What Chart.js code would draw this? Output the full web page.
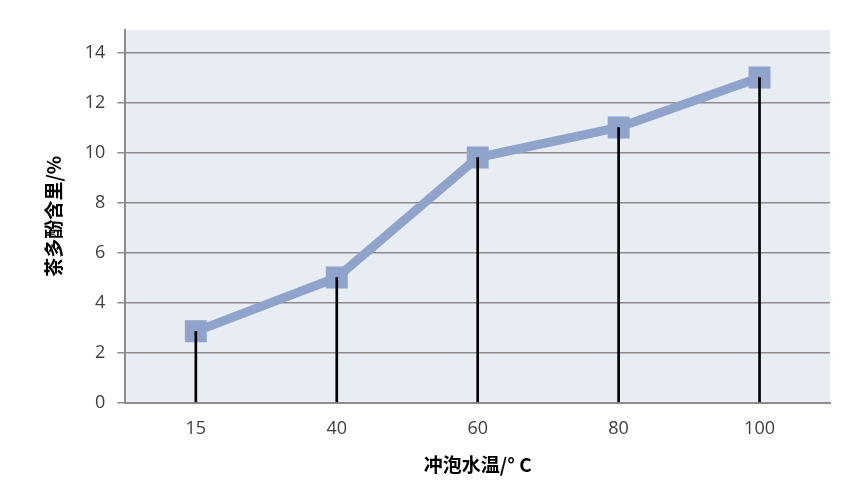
<!DOCTYPE html>
<html>
<head>
<meta charset="utf-8">
<script src="https://cdn.jsdelivr.net/npm/chart.js@4"></script>
<style>
  html, body { margin: 0; padding: 0; background: #fff; }
  #wrap { width: 865px; height: 480px; }
</style>
</head>
<body>
<div id="wrap"><canvas id="chart"></canvas></div>
<script>
// water temperature categories and tea polyphenol content
const temps = ['15', '40', '60', '80', '100'];
const polyphenol = [2.85, 5.0, 9.8, 11.0, 13.0];
const yTicks = [0, 2, 4, 6, 8, 10, 12, 14];

const xTitle = '冲泡水温/° C';
const yTitle = '茶多酚含里/%';

// fill the plot area light blue-grey like the original
const plotBg = {
  id: 'plotBg',
  beforeDraw(chart) {
    const a = chart.chartArea;
    const c = chart.ctx;
    c.save();
    c.fillStyle = '#e8ecf3';
    c.fillRect(a.left, a.top, a.right - a.left, a.bottom - a.top);
    c.restore();
  }
};

const ctx = document.getElementById('chart');
const myChart = new Chart(ctx, {
  data: {
    labels: temps,
    datasets: [{
      type: 'bar',
      label: 'drop',
      data: polyphenol,
      backgroundColor: '#000',
      barThickness: 2,
      order: 0
    }, {
      type: 'line',
      label: 'polyphenol',
      data: polyphenol,
      borderColor: '#8fa3cb',
      backgroundColor: '#8fa3cb',
      borderWidth: 9,
      pointStyle: 'rect',
      pointRadius: 15.5,
      pointHoverRadius: 15.5,
      pointBorderWidth: 0,
      tension: 0,
      order: 1
    }]
  },
  options: {
    responsive: true,
    maintainAspectRatio: false,
    animation: false,
    layout: { padding: { left: 42, right: 35, top: 30, bottom: 4 } },
    plugins: {
      legend: { display: false },
      tooltip: { enabled: false }
    },
    scales: {
      x: {
        offset: true,
        grid: { display: false },
        border: { display: true, color: '#8c8c8c', width: 2 },
        ticks: {
          color: '#404040',
          padding: 7,
          font: { family: 'Open Sans', size: 18 }
        },
        title: {
          display: true,
          text: xTitle,
          color: '#000',
          padding: { top: 7, bottom: 0 },
          font: { family: 'Noto Sans CJK SC', size: 19, weight: 'bold' }
        }
      },
      y: {
        min: 0,
        max: 14.9,
        afterBuildTicks(axis) {
          axis.ticks = yTicks.map(v => ({ value: v }));
        },
        grid: {
          color: '#8c8c8c',
          lineWidth: 1.5,
          tickLength: 8,
          drawTicks: true
        },
        border: { display: true, color: '#8c8c8c', width: 2 },
        ticks: {
          color: '#404040',
          padding: 12,
          font: { family: 'Open Sans', size: 18 }
        },
        title: {
          display: true,
          text: yTitle,
          color: '#000',
          padding: { top: 0, bottom: 8 },
          font: { family: 'Noto Sans CJK SC', size: 19, weight: 'bold' }
        }
      }
    }
  },
  plugins: [plotBg]
});
</script>
</body>
</html>
